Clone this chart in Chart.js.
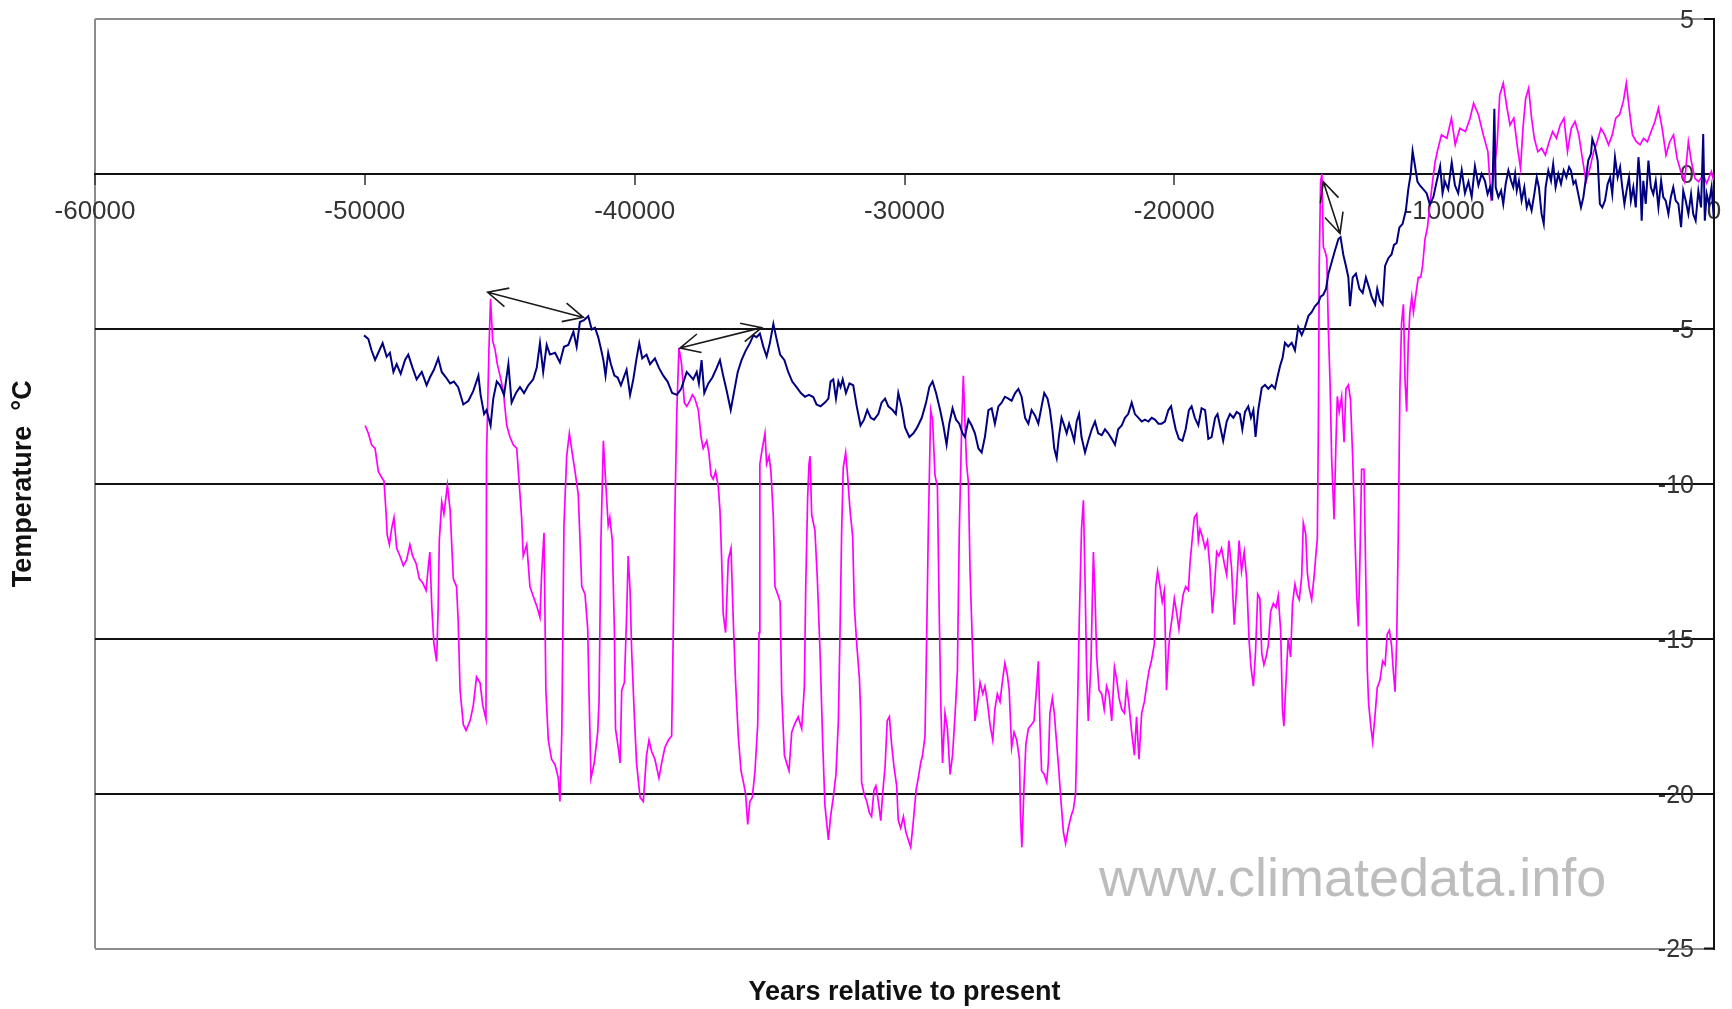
<!DOCTYPE html>
<html>
<head>
<meta charset="utf-8">
<title>Temperature</title>
<script src="https://cdn.jsdelivr.net/npm/chart.js@4.4.1/dist/chart.umd.min.js"></script>
<style>
  html, body { margin: 0; padding: 0; background: #fff; }
  #wrap { width: 1732px; height: 1009px; }
</style>
</head>
<body>
<div id="wrap"><canvas id="chart" width="1732" height="1009"></canvas></div>
<script>
// --- Greenland (magenta) : years before present / temperature °C ---
const greenYears = [
  -49990, -49870, -49750, -49620, -49500, -49380, -49290, -49220, -49170, -49090,
  -49010, -48920, -48820, -48700, -48570, -48450, -48330, -48230, -48100, -47980,
  -47860, -47730, -47650, -47590, -47520, -47440, -47340, -47280, -47240, -47150,
  -47070, -46940, -46840, -46720, -46600, -46540, -46470, -46350, -46250, -46100,
  -45980, -45860, -45730, -45630, -45510, -45490, -45400, -45340, -45260, -45180,
  -45090, -44990, -44870, -44740, -44620, -44500, -44370, -44270, -44190, -44130,
  -44000, -43880, -43760, -43630, -43510, -43450, -43360, -43290, -43200, -43080,
  -42950, -42830, -42770, -42700, -42620, -42520, -42420, -42340, -42210, -42090,
  -41960, -41840, -41740, -41690, -41620, -41500, -41370, -41320, -41250, -41160,
  -41080, -40980, -40920, -40830, -40750, -40710, -40610, -40540, -40480, -40380,
  -40300, -40240, -40170, -40110, -40010, -39930, -39800, -39680, -39560, -39470,
  -39370, -39250, -39100, -39000, -38880, -38750, -38630, -38570, -38510, -38440,
  -38360, -38260, -38160, -38070, -37950, -37860, -37770, -37640, -37540, -37460,
  -37330, -37250, -37170, -37090, -37000, -36900, -36840, -36780, -36720, -36630,
  -36530, -36430, -36340, -36260, -36160, -36060, -35970, -35890, -35810, -35730,
  -35640, -35540, -35440, -35390, -35360, -35270, -35170, -35110, -35020, -34950,
  -34860, -34800, -34700, -34610, -34550, -34450, -34370, -34280, -34180, -34080,
  -33940, -33810, -33710, -33660, -33590, -33540, -33500, -33440, -33320, -33230,
  -33130, -33030, -32950, -32820, -32740, -32640, -32540, -32450, -32390, -32330,
  -32270, -32180, -32110, -32020, -31920, -31860, -31770, -31670, -31620, -31590,
  -31500, -31400, -31300, -31220, -31130, -31060, -30970, -30880, -30810, -30720,
  -30640, -30560, -30480, -30390, -30290, -30230, -30140, -30040, -29950, -29860,
  -29770, -29670, -29570, -29490, -29400, -29330, -29240, -29180, -29120, -29030,
  -28960, -28870, -28780, -28710, -28650, -28590, -28500, -28410, -28310, -28220,
  -28130, -28040, -27970, -27880, -27820, -27760, -27700, -27630, -27570, -27470,
  -27390, -27300, -27200, -27100, -27020, -26930, -26830, -26730, -26650, -26560,
  -26460, -26360, -26280, -26190, -26120, -26030, -25940, -25840, -25740, -25700,
  -25650, -25570, -25500, -25410, -25290, -25200, -25100, -25040, -24980, -24920,
  -24820, -24730, -24670, -24610, -24520, -24450, -24360, -24280, -24200, -24110,
  -24030, -23930, -23830, -23740, -23660, -23580, -23520, -23440, -23370, -23310,
  -23250, -23190, -23090, -23000, -22940, -22880, -22790, -22690, -22600, -22510,
  -22420, -22320, -22220, -22140, -22050, -21950, -21850, -21770, -21680, -21580,
  -21480, -21400, -21310, -21210, -21110, -21030, -20940, -20840, -20740, -20690,
  -20620, -20530, -20450, -20370, -20290, -20220, -20160, -20080, -20000, -19910,
  -19830, -19750, -19670, -19580, -19480, -19420, -19330, -19260, -19170, -19110,
  -19050, -18960, -18860, -18770, -18680, -18590, -18520, -18430, -18350, -18250,
  -18150, -18060, -17980, -17880, -17780, -17690, -17600, -17510, -17410, -17320,
  -17230, -17160, -17070, -16990, -16910, -16830, -16760, -16680, -16600, -16520,
  -16430, -16330, -16230, -16150, -16060, -15990, -15940, -15860, -15780, -15690,
  -15620, -15530, -15440, -15370, -15280, -15220, -15130, -15070, -15000, -14910,
  -14820, -14750, -14700, -14660, -14630, -14580, -14530, -14480, -14420, -14350,
  -14290, -14230, -14170, -14080, -14010, -13960, -13890, -13800, -13710, -13640,
  -13550, -13470, -13390, -13310, -13240, -13180, -13120, -13060, -12970, -12900,
  -12850, -12800, -12720, -12650, -12560, -12480, -12380, -12280, -12190, -12110,
  -12030, -11950, -11880, -11820, -11760, -11700, -11640, -11580, -11510, -11450,
  -11390, -11330, -11270, -11200, -11140, -11040, -10960, -10870, -10800, -10710,
  -10620, -10530, -10430, -10340, -10250, -10100, -9900, -9730, -9590, -9420,
  -9210, -9040, -8910, -8730, -8550, -8380, -8270, -8180, -8040, -7940,
  -7810, -7670, -7560, -7420, -7280, -7170, -7080, -6980, -6870, -6760,
  -6660, -6530, -6390, -6250, -6110, -5980, -5840, -5700, -5560, -5430,
  -5290, -5150, -5010, -4880, -4740, -4600, -4460, -4330, -4190, -4050,
  -3910, -3770, -3640, -3500, -3360, -3250, -3130, -3020, -2880, -2740,
  -2610, -2470, -2330, -2190, -2060, -1920, -1780, -1640, -1500, -1370,
  -1230, -1090, -950, -840, -710, -570, -400, -270, -100, -20
];
const greenTemp = [
  -8.12, -8.37, -8.74, -8.86, -9.6, -9.79, -9.91, -10.84, -11.65, -11.96,
  -11.46, -11.09, -12.08, -12.33, -12.64, -12.45, -11.96, -12.33, -12.57, -13.07,
  -13.19, -13.44, -12.7, -12.2, -13.94, -15.17, -15.73, -13.94, -11.83, -10.59,
  -10.97, -10.04, -10.84, -13.07, -13.32, -14.43, -16.66, -17.77, -17.96, -17.65,
  -17.15, -16.23, -16.42, -17.15, -17.59, -9.11, -5.64, -4.03, -5.4, -5.64,
  -6.14, -6.51, -7.0, -8.12, -8.49, -8.74, -8.86, -10.1, -11.09, -12.33,
  -11.96, -13.32, -13.63, -13.94, -14.31, -12.95, -11.58, -16.66, -18.27, -18.89,
  -19.07, -19.5, -20.25, -18.02, -11.34, -9.11, -8.37, -8.86, -9.6, -10.35,
  -13.32, -13.56, -14.68, -16.78, -19.5, -19.01, -18.02, -17.03, -11.83, -8.61,
  -9.85, -11.34, -11.09, -11.83, -14.8, -17.9, -18.51, -19.01, -16.66, -16.41,
  -14.31, -12.33, -13.44, -15.42, -17.52, -19.01, -20.12, -20.25, -18.76, -18.27,
  -18.64, -18.89, -19.5, -19.01, -18.51, -18.27, -18.14, -14.8, -10.97, -7.75,
  -5.62, -6.14, -7.38, -7.5, -7.31, -7.13, -7.25, -7.62, -8.49, -8.86,
  -8.61, -8.99, -9.73, -9.85, -9.6, -10.1, -10.84, -12.33, -14.18, -14.8,
  -12.45, -12.08, -14.55, -16.41, -18.14, -19.26, -19.63, -20.0, -20.99, -20.25,
  -20.12, -19.26, -17.77, -14.8, -9.36, -8.86, -8.37, -9.36, -9.11, -9.6,
  -11.09, -13.32, -13.56, -13.81, -16.78, -18.76, -19.01, -19.26, -18.02, -17.77,
  -17.52, -17.9, -16.53, -13.32, -10.47, -9.36, -9.11, -11.0, -11.5, -13.07,
  -15.42, -18.39, -20.37, -21.49, -20.74, -20.12, -19.38, -17.65, -14.8, -11.58,
  -9.48, -8.99, -9.73, -10.84, -11.71, -13.94, -15.17, -16.29, -17.52, -19.63,
  -20.0, -20.25, -20.62, -20.74, -19.88, -19.75, -20.25, -20.87, -20.0, -19.13,
  -17.65, -17.52, -18.39, -19.13, -19.75, -20.87, -21.11, -20.74, -21.24, -21.49,
  -21.73, -20.87, -19.88, -19.5, -19.01, -18.76, -18.14, -15.05, -11.58, -7.62,
  -7.93, -9.73, -10.1, -14.31, -17.28, -19.01, -17.4, -17.9, -19.38, -18.76,
  -17.52, -16.04, -11.58, -8.12, -6.51, -7.99, -9.36, -9.98, -12.82, -15.54,
  -17.65, -17.15, -16.41, -16.78, -16.53, -17.03, -17.77, -18.27, -17.28, -16.78,
  -17.03, -16.29, -15.79, -16.16, -16.66, -18.51, -18.02, -18.27, -18.89, -20.74,
  -21.73, -19.75, -18.39, -17.9, -17.77, -17.65, -16.53, -15.73, -17.77, -19.26,
  -19.38, -19.63, -19.01, -17.4, -16.91, -17.4, -18.39, -19.26, -20.25, -21.24,
  -21.61, -21.11, -20.74, -20.5, -20.0, -16.91, -14.31, -11.46, -10.53, -13.07,
  -16.04, -17.65, -15.79, -12.2, -13.56, -15.54, -16.66, -16.78, -17.28, -16.53,
  -16.78, -17.65, -15.92, -16.29, -16.91, -17.28, -17.4, -16.53, -17.15, -18.02,
  -18.76, -17.52, -18.89, -17.4, -17.03, -16.53, -16.04, -15.67, -15.17, -13.32,
  -12.82, -13.32, -13.81, -13.44, -16.66, -15.42, -14.8, -14.31, -13.7, -14.18,
  -14.68, -14.06, -13.56, -13.32, -13.44, -12.57, -11.71, -11.09, -10.97, -11.83,
  -11.46, -11.71, -12.08, -11.83, -12.7, -14.18, -13.44, -12.2, -12.33, -12.08,
  -12.57, -12.95, -11.83, -12.7, -14.55, -13.32, -11.83, -12.82, -12.2, -13.07,
  -15.05, -15.92, -16.53, -15.42, -13.56, -13.7, -15.47, -15.84, -15.59, -15.22,
  -14.11, -13.86, -13.99, -13.61, -14.73, -17.33, -17.82, -16.34, -14.98, -15.59,
  -13.86, -13.24, -13.61, -13.74, -12.99, -11.26, -11.63, -12.87, -13.37, -13.74,
  -12.99, -12.25, -11.76, -7.92, -2.97, -0.25, 0.0, -2.35, -2.48, -2.72,
  -5.07, -6.68, -9.16, -11.14, -8.66, -7.18, -7.67, -7.18, -8.66, -6.93,
  -6.81, -7.3, -9.16, -11.63, -13.61, -14.6, -12.38, -9.53, -9.53, -13.24,
  -15.97, -17.08, -17.82, -18.32, -17.45, -16.58, -16.34, -15.72, -15.84, -14.85,
  -14.73, -15.22, -16.09, -16.71, -15.1, -11.63, -6.93, -4.83, -4.21, -6.68,
  -7.67, -5.45, -4.46, -3.96, -4.46, -3.84, -3.34, -3.34, -2.97, -2.1,
  -1.73, -0.99, -0.25, 0.37, 0.74, 1.26, 1.15, 1.8, 0.94, 1.47,
  1.37, 1.8, 2.28, 1.91, 1.26, 0.72, -0.68, -0.14, 0.94, 2.55,
  2.93, 2.12, 1.58, 1.8, 0.83, 0.18, 1.47, 2.44, 2.77, 1.8,
  1.15, 0.72, 0.83, 0.61, 1.04, 1.37, 1.15, 1.58, 1.8, 0.72,
  1.47, 1.69, 1.26, 0.51, -0.25, 0.18, 0.72, 1.04, 1.47, 1.26,
  0.94, 1.26, 1.8, 1.91, 2.34, 2.93, 2.01, 1.26, 1.04, 0.94,
  1.15, 1.04, 1.37, 1.69, 2.12, 1.47, 0.61, 1.04, 1.26, 0.51,
  0.08, -0.25, 1.04, 0.4, -0.14, -0.25, -0.03, -0.3, 0.08, -0.2
];

// --- Antarctica (navy) ---
const antYears = [
  -50030, -49870, -49750, -49620, -49500, -49340, -49190, -49070, -48940, -48820,
  -48670, -48510, -48390, -48230, -48080, -47890, -47710, -47590, -47440, -47280,
  -47150, -46990, -46840, -46700, -46540, -46350, -46160, -45980, -45790, -45710,
  -45580, -45490, -45340, -45240, -45110, -44990, -44840, -44680, -44560, -44400,
  -44250, -44100, -43940, -43760, -43630, -43510, -43390, -43260, -43140, -42950,
  -42770, -42620, -42460, -42270, -42150, -42030, -41880, -41720, -41590, -41470,
  -41350, -41250, -41160, -41080, -40980, -40880, -40750, -40630, -40510, -40380,
  -40300, -40170, -40050, -39930, -39830, -39720, -39560, -39430, -39250, -39100,
  -38940, -38780, -38610, -38440, -38280, -38160, -38070, -37950, -37830, -37700,
  -37620, -37520, -37420, -37270, -37120, -36960, -36840, -36720, -36590, -36440,
  -36310, -36180, -36040, -35890, -35730, -35600, -35480, -35360, -35230, -35110,
  -34990, -34860, -34740, -34610, -34450, -34310, -34160, -34000, -33840, -33690,
  -33540, -33380, -33260, -33110, -32950, -32820, -32740, -32640, -32540, -32450,
  -32370, -32290, -32170, -32040, -31900, -31770, -31630, -31500, -31380, -31250,
  -31130, -30970, -30850, -30720, -30600, -30440, -30320, -30230, -30110, -29980,
  -29820, -29670, -29530, -29360, -29200, -29080, -28960, -28830, -28680, -28560,
  -28440, -28340, -28220, -28090, -27970, -27850, -27760, -27630, -27510, -27390,
  -27260, -27140, -27020, -26890, -26770, -26650, -26520, -26400, -26280, -26150,
  -26030, -25900, -25780, -25660, -25530, -25410, -25290, -25160, -25040, -24920,
  -24820, -24700, -24610, -24520, -24450, -24360, -24280, -24180, -24080, -23990,
  -23900, -23810, -23710, -23620, -23530, -23440, -23310, -23190, -23060, -22940,
  -22820, -22690, -22570, -22450, -22320, -22200, -22080, -21950, -21830, -21710,
  -21580, -21460, -21330, -21210, -21090, -20960, -20840, -20720, -20590, -20470,
  -20350, -20220, -20120, -20040, -19950, -19830, -19700, -19580, -19460, -19360,
  -19240, -19110, -18990, -18860, -18740, -18620, -18490, -18400, -18310, -18190,
  -18060, -17940, -17810, -17690, -17570, -17480, -17380, -17260, -17160, -17070,
  -16990, -16890, -16760, -16640, -16520, -16390, -16270, -16180, -16080, -15990,
  -15900, -15780, -15650, -15530, -15410, -15280, -15160, -15030, -14910, -14790,
  -14660, -14580, -14480, -14380, -14290, -14170, -14050, -13920, -13840, -13740,
  -13640, -13550, -13490, -13390, -13270, -13140, -13020, -12900, -12770, -12690,
  -12560, -12480, -12380, -12280, -12190, -12070, -11950, -11860, -11760, -11660,
  -11540, -11420, -11330, -11240, -11170, -11080, -10990, -10900, -10770, -10650,
  -10530, -10400, -10280, -10150, -10060, -9970, -9850, -9720, -9600, -9480,
  -9350, -9230, -9100, -8980, -8860, -8730, -8610, -8490, -8390, -8300,
  -8220, -8140, -8090, -7990, -7890, -7810, -7720, -7620, -7520, -7440,
  -7370, -7310, -7230, -7130, -7030, -6940, -6860, -6760, -6660, -6570,
  -6490, -6390, -6310, -6240, -6140, -6040, -5960, -5870, -5770, -5670,
  -5570, -5470, -5370, -5300, -5210, -5130, -5030, -4930, -4840, -4760,
  -4660, -4560, -4510, -4410, -4310, -4230, -4140, -4040, -3940, -3850,
  -3770, -3670, -3570, -3480, -3400, -3320, -3240, -3150, -3080, -2990,
  -2900, -2800, -2740, -2680, -2620, -2530, -2430, -2340, -2250, -2160,
  -2060, -1960, -1880, -1790, -1690, -1600, -1510, -1420, -1320, -1220,
  -1140, -1050, -950, -850, -770, -680, -580, -480, -400, -340,
  -270, -190, -90, -10
];
const antTemp = [
  -5.21, -5.33, -5.7, -6.0, -5.77, -5.46, -5.9, -5.77, -6.39, -6.14,
  -6.45, -6.0, -5.83, -6.26, -6.63, -6.39, -6.82, -6.57, -6.32, -5.95,
  -6.39, -6.57, -6.76, -6.7, -6.88, -7.44, -7.32, -7.0, -6.51, -7.13,
  -7.75, -7.62, -8.12, -7.25, -6.7, -6.82, -7.13, -6.14, -7.38, -7.07,
  -6.88, -7.07, -6.82, -6.63, -6.26, -5.46, -6.39, -5.52, -5.83, -5.77,
  -6.08, -5.58, -5.52, -5.09, -5.58, -4.78, -4.72, -4.59, -5.02, -4.96,
  -5.27, -5.64, -6.01, -6.51, -5.77, -6.14, -6.51, -6.57, -6.82, -6.51,
  -6.32, -7.13, -6.63, -5.95, -5.46, -5.95, -5.83, -6.14, -5.95, -6.26,
  -6.51, -6.7, -7.07, -7.13, -6.94, -6.63, -6.39, -6.51, -6.63, -6.39,
  -6.76, -6.01, -7.07, -6.76, -6.57, -6.26, -6.01, -6.51, -7.0, -7.62,
  -7.0, -6.39, -6.01, -5.71, -5.46, -5.21, -5.27, -5.15, -5.58, -5.89,
  -5.46, -4.84, -5.33, -5.83, -6.01, -6.39, -6.7, -6.88, -7.07, -7.19,
  -7.13, -7.2, -7.44, -7.5, -7.38, -7.25, -6.7, -6.63, -7.25, -6.7,
  -6.88, -6.63, -7.07, -6.76, -6.82, -7.5, -8.12, -7.93, -7.62, -7.87,
  -7.93, -7.75, -7.38, -7.25, -7.5, -7.62, -7.75, -7.07, -7.5, -8.18,
  -8.49, -8.37, -8.18, -7.87, -7.38, -6.88, -6.7, -7.07, -7.62, -8.12,
  -8.74, -8.06, -7.56, -7.93, -8.06, -8.37, -8.49, -7.93, -8.12, -8.37,
  -8.86, -8.99, -8.49, -7.62, -7.56, -8.06, -7.5, -7.38, -7.19, -7.25,
  -7.32, -7.07, -6.94, -7.19, -7.87, -8.06, -7.62, -7.8, -8.06, -7.5,
  -7.07, -7.25, -7.62, -8.24, -8.86, -9.17, -8.49, -7.87, -8.12, -8.37,
  -8.06, -8.3, -8.61, -7.99, -7.75, -8.49, -8.99, -8.61, -8.24, -7.99,
  -8.37, -8.43, -8.24, -8.37, -8.55, -8.74, -8.24, -8.12, -7.87, -7.75,
  -7.38, -7.75, -7.87, -7.99, -7.93, -7.99, -7.87, -7.93, -8.06, -8.06,
  -7.99, -7.62, -7.5, -7.87, -8.24, -8.55, -8.61, -8.24, -7.62, -7.5,
  -7.87, -8.12, -7.56, -7.62, -8.55, -8.49, -7.87, -7.75, -8.12, -8.61,
  -7.99, -7.75, -7.87, -7.68, -7.75, -8.24, -7.68, -7.5, -7.87, -7.62,
  -8.49, -7.62, -6.9, -6.81, -6.93, -6.81, -6.93, -6.56, -6.19, -5.94,
  -5.45, -5.57, -5.45, -5.69, -4.95, -5.2, -4.95, -4.58, -4.46, -4.27,
  -4.15, -3.96, -3.9, -3.71, -3.22, -2.85, -2.48, -2.1, -2.04, -2.6,
  -2.97, -3.34, -4.27, -3.34, -3.22, -3.71, -3.84, -3.34, -3.71, -3.96,
  -4.21, -3.71, -4.08, -4.21, -2.97, -2.72, -2.6, -2.29, -2.23, -1.73,
  -1.61, -1.18, -0.5, 0.0, 0.74, 0.25, -0.25, -0.37, -0.5, -0.62,
  -0.99, -0.74, -0.25, 0.25, -0.62, -0.25, -0.5, 0.37, -0.37, -0.62,
  0.12, -0.62, -0.25, -0.74, 0.25, -0.37, 0.0, -0.22, -0.65, -0.43,
  -0.86, 2.1, -0.43, -0.75, -0.54, -0.97, -0.32, 0.11, -0.22, -0.43,
  0.0, -0.54, -0.22, -0.86, -0.43, -1.08, -0.86, -1.18, -0.65, -0.11,
  -0.43, -1.29, -1.61, -0.43, 0.11, -0.22, 0.32, -0.43, 0.0, -0.32,
  0.11, -0.11, 0.22, 0.11, -0.32, -0.22, -0.65, -1.08, -0.75, -0.22,
  0.43, 0.65, 1.13, 0.86, 0.43, -0.97, -1.08, -0.86, -0.32, -0.11,
  -0.65, 0.54, -0.11, 0.22, -0.43, -0.97, -0.54, -0.11, -0.86, -0.43,
  -1.08, 0.54, -0.11, -1.51, -0.22, -0.97, 0.43, -0.43, -0.65, -0.22,
  -1.08, -0.22, -0.75, -0.86, -1.29, -0.75, -0.43, -0.86, -0.97, -1.72,
  -0.54, -0.86, -1.29, -0.65, -1.29, -1.51, -0.54, -1.08, 1.29, -1.51,
  -0.65, -0.97, -0.43, -1.4
];

// axis ticks
const yearTicks = [-60000, -50000, -40000, -30000, -20000, -10000, 0];
const tempTicks = [5, 0, -5, -10, -15, -20, -25];

// double-headed arrows: [fromYear, fromTemp, toYear, toTemp]
const arrows = [
  [-45448, -3.82, -41903, -4.63],
  [-38320, -5.62, -35294, -4.96],
  [-14478, -0.25, -13860, -1.92]
];

const sans = "'Liberation Sans', Arial, sans-serif";

function toPoints(xs, ys) {
  return xs.map((x, i) => ({ x: x, y: ys[i] }));
}

function drawArrow(ctx, x1, y1, x2, y2) {
  const ang = Math.atan2(y2 - y1, x2 - x1);
  const len = 22, spread = Math.PI / 7;
  ctx.beginPath();
  ctx.moveTo(x1, y1);
  ctx.lineTo(x2, y2);
  // head at both ends
  [[x2, y2, ang], [x1, y1, ang + Math.PI]].forEach(([hx, hy, a]) => {
    ctx.moveTo(hx - len * Math.cos(a - spread), hy - len * Math.sin(a - spread));
    ctx.lineTo(hx, hy);
    ctx.lineTo(hx - len * Math.cos(a + spread), hy - len * Math.sin(a + spread));
  });
  ctx.stroke();
}

// extra drawing: arrows, watermark, small inner ticks and the left axis title
const extras = {
  id: 'extras',
  afterDatasetsDraw(chart) {
    const { ctx, chartArea, scales } = chart;
    ctx.save();
    ctx.strokeStyle = '#1a1a1a';
    ctx.lineWidth = 1.6;
    arrows.forEach(a => {
      drawArrow(ctx,
        scales.x.getPixelForValue(a[0]), scales.y.getPixelForValue(a[1]),
        scales.x.getPixelForValue(a[2]), scales.y.getPixelForValue(a[3]));
    });

    // inner tick marks on the value axis at the frame ends
    ctx.strokeStyle = '#111';
    ctx.lineWidth = 2;
    ctx.beginPath();
    [tempTicks[0], tempTicks[tempTicks.length - 1]].forEach(v => {
      const y = scales.y.getPixelForValue(v);
      ctx.moveTo(chartArea.right - 10, y);
      ctx.lineTo(chartArea.right, y);
    });
    ctx.stroke();

    ctx.fillStyle = '#bdbdbd';
    ctx.font = '54px ' + sans;
    ctx.textAlign = 'left';
    ctx.textBaseline = 'alphabetic';
    ctx.fillText('www.climatedata.info', chartArea.right - 615, chartArea.bottom - 53);

    ctx.fillStyle = '#111';
    ctx.font = 'bold 27px ' + sans;
    ctx.translate(24, (chartArea.top + chartArea.bottom) / 2);
    ctx.rotate(-Math.PI / 2);
    ctx.textAlign = 'center';
    ctx.textBaseline = 'middle';
    ctx.fillText('Temperature  °C', 0, 0);
    ctx.restore();
  }
};

new Chart(document.getElementById('chart'), {
  type: 'line',
  data: {
    datasets: [
      {
        label: 'Antarctica',
        data: toPoints(antYears, antTemp),
        borderColor: '#000080',
        borderWidth: 2,
        pointRadius: 0,
        tension: 0
      },
      {
        label: 'Greenland',
        data: toPoints(greenYears, greenTemp),
        borderColor: '#ff00ff',
        borderWidth: 1.7,
        pointRadius: 0,
        tension: 0
      }
    ]
  },
  options: {
    responsive: false,
    animation: false,
    events: [],
    layout: { padding: { left: 95, top: 19, right: 18, bottom: 0 } },
    plugins: {
      legend: { display: false },
      tooltip: { enabled: false },
      title: {
        display: true,
        position: 'bottom',
        text: 'Years relative to present',
        color: '#111',
        font: { family: sans, size: 27, weight: 'bold', lineHeight: 1.2 },
        padding: { top: 28, bottom: 0 }
      }
    },
    scales: {
      x: {
        type: 'linear',
        min: -60000,
        max: 0,
        position: { y: 0 },
        afterFit: s => { s.height = 0; s.paddingLeft = 0; s.paddingRight = 0; },
        afterBuildTicks: s => { s.ticks = yearTicks.map(v => ({ value: v })); },
        ticks: {
          autoSkip: false,
          maxRotation: 0,
          padding: 12,
          color: '#333',
          font: { family: sans, size: 26 },
          callback: v => String(v)
        },
        grid: {
          color: c => (c.tick && c.tick.value === -60000) ? '#8c8c8c' : 'rgba(0,0,0,0)',
          lineWidth: 2,
          drawTicks: true,
          tickLength: 10,
          tickColor: '#333',
          tickWidth: 1.5
        },
        border: { display: true, color: '#111', width: 2 }
      },
      y: {
        type: 'linear',
        min: -25,
        max: 5,
        position: 'right',
        afterFit: s => { s.width = 0; s.paddingTop = 0; s.paddingBottom = 0; },
        afterBuildTicks: s => { s.ticks = tempTicks.map(v => ({ value: v })); },
        ticks: {
          mirror: true,
          padding: -20,
          labelOffset: 2,
          color: '#333',
          font: { family: sans, size: 25 },
          callback: v => String(v)
        },
        grid: {
          color: c => (c.tick && (c.tick.value === 5 || c.tick.value === -25)) ? '#8c8c8c' : '#111',
          lineWidth: 2,
          drawTicks: false
        },
        border: { display: true, color: '#111', width: 2 }
      }
    }
  },
  plugins: [extras]
});
</script>
</body>
</html>
